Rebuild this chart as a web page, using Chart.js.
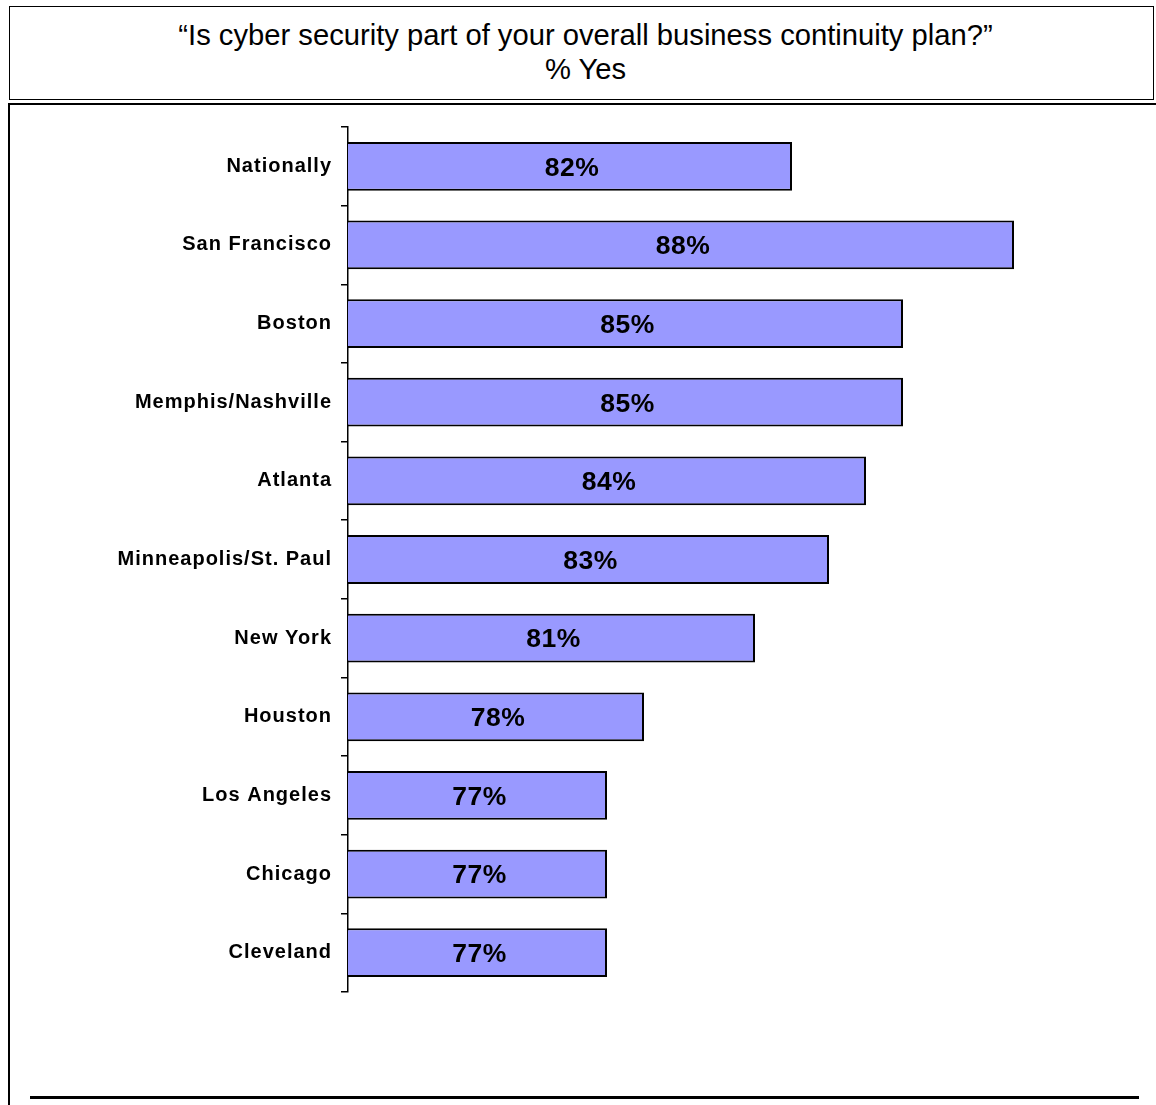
<!DOCTYPE html>
<html>
<head>
<meta charset="utf-8">
<script src="https://cdn.jsdelivr.net/npm/chart.js@4"></script>
<style>
  html, body { margin: 0; padding: 0; background: #fff; }
  body { width: 1156px; height: 1105px; position: relative; overflow: hidden; font-family: "Liberation Sans", Arial, sans-serif; }
  #titlebox { position: absolute; left: 9px; top: 6px; width: 1145px; height: 94px; border: 1.5px solid #000; box-sizing: border-box; text-align: center; font-size: 29.2px; line-height: 34px; padding-top: 11px; padding-left: 8px; color: #000; }
  #frameTop { position: absolute; left: 8px; top: 103px; width: 1148px; height: 2px; background: #000; }
  #frameLeft { position: absolute; left: 8px; top: 103px; width: 2px; height: 1002px; background: #000; }
  #bottomLine { position: absolute; left: 30px; top: 1096px; width: 1109px; height: 3px; background: #000; }
  #wrap { position: absolute; left: 0; top: 0; width: 1156px; height: 1105px; }
</style>
</head>
<body>
<div id="titlebox">“Is cyber security part of your overall business continuity plan?”<br>% Yes</div>
<div id="frameTop"></div>
<div id="frameLeft"></div>
<div id="bottomLine"></div>
<div id="wrap"><canvas id="c" width="1156" height="1105"></canvas></div>
<script>
const categories = ["Nationally", "San Francisco", "Boston", "Memphis/Nashville", "Atlanta", "Minneapolis/St. Paul", "New York", "Houston", "Los Angeles", "Chicago", "Cleveland"];
const yesValues = [82, 88, 85, 85, 84, 83, 81, 78, 77, 77, 77];
const valueLabels = ["82%", "88%", "85%", "85%", "84%", "83%", "81%", "78%", "77%", "77%", "77%"];

const valueLabelPlugin = {
  id: 'barValueText',
  beforeDraw(chart) { if ('letterSpacing' in chart.ctx) chart.ctx.letterSpacing = '1px'; },
  afterDatasetsDraw(chart) {
    const ctx = chart.ctx;
    const left = chart.chartArea.left;
    ctx.save();
    if ('letterSpacing' in ctx) ctx.letterSpacing = '0.5px';
    ctx.font = 'bold 26.5px "Liberation Sans", Arial, sans-serif';
    ctx.fillStyle = '#000000';
    ctx.textAlign = 'center';
    ctx.textBaseline = 'middle';
    chart.getDatasetMeta(0).data.forEach((bar, i) => {
      const start = Math.max(bar.base, left);
      ctx.fillText(valueLabels[i], (bar.x + start) / 2 + 2, bar.y + 2);
    });
    ctx.restore();
  }
};

new Chart(document.getElementById('c'), {
  type: 'bar',
  data: {
    labels: categories,
    datasets: [{
      data: yesValues,
      backgroundColor: '#9999FF',
      borderColor: '#000',
      borderWidth: 2,
      borderSkipped: false,
      barPercentage: 0.62,
      categoryPercentage: 1.0
    }]
  },
  options: {
    indexAxis: 'y',
    responsive: false,
    animation: false,
    devicePixelRatio: 1,
    layout: { padding: { top: 127, bottom: 113, left: 0, right: 68 } },
    plugins: { legend: { display: false }, tooltip: { enabled: false }, title: { display: false } },
    scales: {
      x: { display: false, min: 70, max: 90 },
      y: {
        afterFit(scale) { scale.width = 348; },
        border: { display: true, color: '#000', width: 1.5 },
        grid: { display: true, drawOnChartArea: false, drawTicks: true, tickLength: 7, color: '#000', lineWidth: 1.5, offset: true },
        ticks: { color: '#000', padding: 9, font: { family: '"Liberation Sans", Arial, sans-serif', size: 20, weight: 'bold' } }
      }
    }
  },
  plugins: [valueLabelPlugin]
});
</script>
</body>
</html>
